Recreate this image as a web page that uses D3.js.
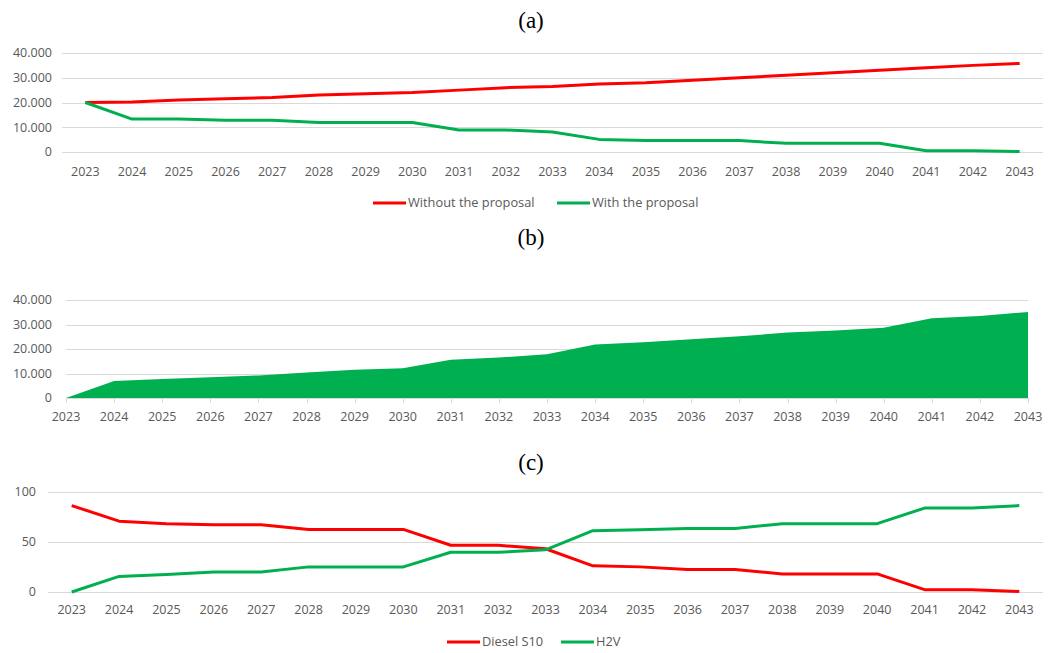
<!DOCTYPE html>
<html><head><meta charset="utf-8">
<script src="https://cdn.jsdelivr.net/npm/d3@7"></script>
<style>
body{margin:0;background:#fff;}
text{font-family:"Open Sans",sans-serif;}
</style></head>
<body>
<svg id="c" width="1051" height="653"></svg>
<script>
const years = d3.range(2023, 2044).map(String);
// (a) emissions
const withoutProposal = [20000,20200,21000,21500,22000,23000,23500,24000,25000,26000,26500,27500,28000,29000,30000,31000,32000,33000,34000,35000,35800];
const withProposal    = [20000,13300,13300,12800,12800,11900,11900,11900,8900,8900,8100,5100,4600,4600,4600,3500,3500,3500,500,500,200];
// (b) reduction
const reduction = [0,6900,7800,8500,9200,10400,11500,12100,15600,16500,17900,21800,22800,24000,25200,26700,27600,28700,32600,33500,35100];
// (c) share
const dieselS10 = [86,70.5,68,67,67,62.3,62.3,62.3,46.5,46.5,43,26,25,22.5,22.5,18,18,18,2.3,2.3,0.5];
const h2v       = [0,15.5,17.5,20,20,25,25,25,39.5,39.5,42,61,62,63.3,63.3,68,68,68,83.5,83.5,86];
const yTicksAB = [0,10000,20000,30000,40000];
const yTicksC = [0,50,100];
const legendA = ["Without the proposal","With the proposal"];
const legendC = ["Diesel S10","H2V"];
const titles = ["(a)","(b)","(c)"];

const RED="#FF0000", GREEN="#00B050", GRID="#D9D9D9", TXT="#595959";
const svg = d3.select("#c");
const fmt = v => v===0 ? "0" : d3.format(",")(v).replace(/,/g,".");

function title(t, y){
  svg.append("text").attr("x",531).attr("y",y).attr("text-anchor","middle")
    .style("font-family","'Liberation Serif','DejaVu Serif',serif").style("font-size","23px").attr("fill","#000").text(t);
}
function yGrid(g, y, ticks, x0, x1, labelX){
  g.selectAll(".gl").data(ticks).join("line").attr("x1",x0).attr("x2",x1)
    .attr("y1",d=>Math.round(y(d))+0.5).attr("y2",d=>Math.round(y(d))+0.5).attr("stroke",GRID).attr("stroke-width",1);
  g.selectAll(".yl").data(ticks).join("text").attr("x",labelX).attr("y",d=>y(d)).attr("dy","0.35em")
    .attr("text-anchor","end").attr("fill",TXT).style("font-size","12.5px").text(fmt);
}
function xLabels(g, x, ly){
  g.selectAll(".xl").data(years).join("text").attr("x",d=>x(d)).attr("y",ly).attr("dy","0.35em")
    .attr("text-anchor","middle").attr("fill",TXT).style("font-size","12.5px").text(d=>d);
}
function legend(items, colors, xs, y){
  items.forEach((t,i)=>{
    svg.append("line").attr("x1",xs[i]).attr("x2",xs[i]+33).attr("y1",y).attr("y2",y).attr("stroke",colors[i]).attr("stroke-width",3);
    svg.append("text").attr("x",xs[i]+35).attr("y",y).attr("dy","0.35em").attr("fill",TXT).style("font-size","12.8px").text(t);
  });
}

// Panel (a)
title(titles[0], 28);
{
  const x = d3.scalePoint().domain(years).range([62,1043]).padding(0.5);
  const y = d3.scaleLinear().domain([0,40000]).range([152,53]);
  const g = svg.append("g");
  yGrid(g, y, yTicksAB, 62, 1043, 52);
  xLabels(g, x, 172);
  const line = d3.line().x((d,i)=>x(years[i])).y(d=>y(d));
  g.append("path").datum(withoutProposal).attr("d",line).attr("fill","none").attr("stroke",RED).attr("stroke-width",3).attr("stroke-linejoin","round");
  g.append("path").datum(withProposal).attr("d",line).attr("fill","none").attr("stroke",GREEN).attr("stroke-width",3).attr("stroke-linejoin","round");
  legend(legendA,[RED,GREEN],[373,557],203);
}

// Panel (b)
title(titles[1], 245);
{
  const x = d3.scalePoint().domain(years).range([66,1028]);
  const y = d3.scaleLinear().domain([0,40000]).range([398,300]);
  const g = svg.append("g");
  yGrid(g, y, yTicksAB, 66, 1028, 52);
  const area = d3.area().x((d,i)=>x(years[i])).y0(y(0)).y1(d=>y(d));
  g.append("path").datum(reduction).attr("d",area).attr("fill",GREEN);
  g.selectAll(".tk").data(years).join("line").attr("x1",d=>Math.round(x(d))+0.5).attr("x2",d=>Math.round(x(d))+0.5)
    .attr("y1",398).attr("y2",403).attr("stroke",GRID);
  g.append("line").attr("x1",66).attr("x2",1028).attr("y1",398.5).attr("y2",398.5).attr("stroke",GRID);
  xLabels(g, x, 417);
}

// Panel (c)
title(titles[2], 470);
{
  const x = d3.scalePoint().domain(years).range([48,1043]).padding(0.5);
  const y = d3.scaleLinear().domain([0,100]).range([592,491.5]);
  const g = svg.append("g");
  yGrid(g, y, yTicksC, 48, 1043, 36);
  xLabels(g, x, 610);
  const line = d3.line().x((d,i)=>x(years[i])).y(d=>y(d));
  g.append("path").datum(dieselS10).attr("d",line).attr("fill","none").attr("stroke",RED).attr("stroke-width",3).attr("stroke-linejoin","round");
  g.append("path").datum(h2v).attr("d",line).attr("fill","none").attr("stroke",GREEN).attr("stroke-width",3).attr("stroke-linejoin","round");
  legend(legendC,[RED,GREEN],[447,561],642);
}
</script>
</body></html>
